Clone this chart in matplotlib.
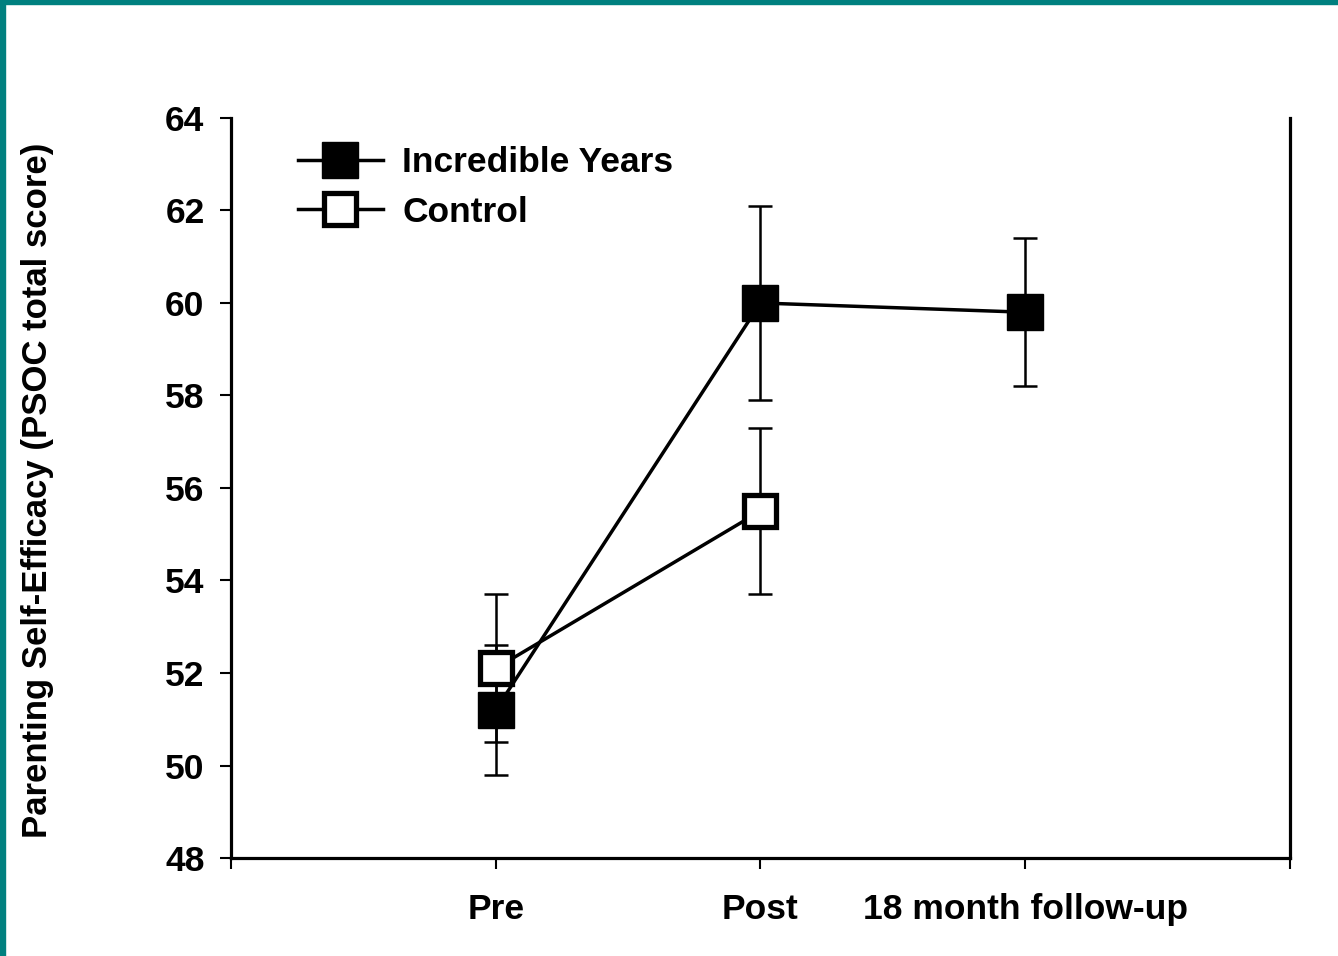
import matplotlib.pyplot as plt
from matplotlib.patches import Rectangle

# data
time_labels = ['Pre', 'Post', '18 month follow-up']
iy_x = [1, 2, 3]
iy_mean = [51.2, 60.0, 59.8]
iy_err = [1.4, 2.1, 1.6]
ctrl_x = [1, 2]
ctrl_mean = [52.1, 55.5]
ctrl_err = [1.6, 1.8]


def main():
    plt.rcParams['font.family'] = ['Liberation Sans', 'DejaVu Sans']
    plt.rcParams['font.weight'] = 'bold'

    fig = plt.figure(figsize=(13.38, 9.56), dpi=100)
    ax = fig.add_axes([0.1726, 0.1025, 0.7915, 0.7741])

    # teal frame on left and top
    fig.patches.append(Rectangle((0, 0), 5 / 1338, 1, transform=fig.transFigure,
                                 color='#00807f', zorder=10))
    fig.patches.append(Rectangle((0, 1 - 4 / 956), 1, 4 / 956, transform=fig.transFigure,
                                 color='#00807f', zorder=10))

    ms = 25.5
    # error bars behind markers
    ax.errorbar(iy_x, iy_mean, yerr=iy_err, fmt='none', ecolor='black',
                elinewidth=1.8, capsize=8.5, capthick=1.8, zorder=2)
    ax.errorbar(ctrl_x, ctrl_mean, yerr=ctrl_err, fmt='none', ecolor='black',
                elinewidth=1.8, capsize=8.5, capthick=1.8, zorder=2)

    ax.plot(iy_x, iy_mean, '-s', color='black', lw=2.5, ms=ms,
            mfc='black', mec='black', mew=1, label='Incredible Years', zorder=3)
    ax.plot(ctrl_x, ctrl_mean, '-s', color='black', lw=2.5, ms=ms - 2.5,
            mfc='white', mec='black', mew=3.8, label='Control', zorder=4)

    ax.set_xlim(0, 4)
    ax.set_ylim(48, 64)
    ax.set_xticks([0, 1, 2, 3, 4])
    ax.set_xticklabels([''] + time_labels + [''])
    ax.set_yticks(range(48, 65, 2))
    ax.tick_params(axis='both', direction='out', width=1.5, length=8,
                   labelsize=25.5)
    ax.tick_params(axis='y', pad=11)
    ax.tick_params(axis='x', pad=17)
    for lab in ax.get_xticklabels() + ax.get_yticklabels():
        lab.set_fontweight('bold')

    ax.spines['top'].set_visible(False)
    for side in ['left', 'bottom', 'right']:
        ax.spines[side].set_linewidth(2.3)

    ax.set_ylabel('Parenting Self-Efficacy (PSOC total score)', fontsize=25,
                  fontweight='bold')
    ax.yaxis.set_label_coords(-0.167, 0.497)

    ax.legend(loc='upper left', bbox_to_anchor=(0.063, 0.962), frameon=False,
              fontsize=25.5, handlelength=2.4, handletextpad=0.55,
              labelspacing=0.47, borderpad=0, borderaxespad=0)
    for t in ax.get_legend().get_texts():
        t.set_fontweight('bold')

    fig.savefig('out.png', dpi=100)


if __name__ == '__main__':
    main()
